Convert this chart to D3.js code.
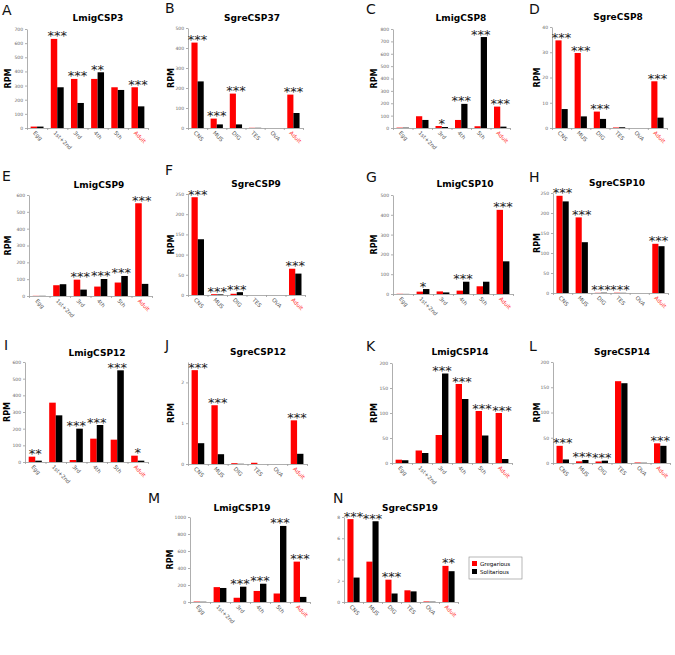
<!DOCTYPE html>
<html><head><meta charset="utf-8">
<script src="https://cdn.jsdelivr.net/npm/d3@7"></script>
<style>body{margin:0;background:#fff}svg{display:block}</style>
</head><body><svg id="c" width="675" height="655"></svg>
<script>
// ---------------- DATA ----------------
const lmigStages = ["Egg", "1st+2nd", "3rd", "4th", "5th", "Adult"];
const sgreTissues = ["CNS", "MUS", "DIG", "TES", "OVA", "Adult"];
const panelLetters = ["A","B","C","D","E","F","G","H","I","J","K","L","M","N"];
const genes = ["LmigCSP3","SgreCSP37","LmigCSP8","SgreCSP8","LmigCSP9","SgreCSP9","LmigCSP10","SgreCSP10","LmigCSP12","SgreCSP12","LmigCSP14","SgreCSP14","LmigCSP19","SgreCSP19"];
const seriesNames = ["Gregarious", "Solitarious"];
const gregarious = [
  [10, 630, 347, 347, 288, 288],
  [427, 47, 172, 1, 0, 167],
  [3, 95, 16, 65, 14, 173],
  [34.7, 29.7, 6.5, 0.2, 0, 18.5],
  [1, 64, 97, 56, 80, 551],
  [242, 2, 3, 0, 0, 65],
  [1, 12, 13, 17, 39, 425],
  [243, 189, 0.5, 0.7, 0, 123],
  [32, 356, 12, 140, 134, 38],
  [2.30, 1.44, 0.02, 0.03, 0, 1.07],
  [6.6, 25, 56, 158, 104, 100],
  [34, 3.3, 3, 162, 1, 39],
  [5, 175, 50, 130, 100, 475],
  [7.8, 3.8, 2.1, 1.1, 0.05, 3.4]
];
const solitarious = [
  [10, 288, 177, 394, 269, 153],
  [233, 18, 18, 1, 0, 75],
  [3, 65, 8, 195, 735, 11],
  [7.5, 4.6, 3.6, 0.3, 0, 4.1],
  [1, 70, 38, 101, 119, 72],
  [138, 1.5, 7, 0, 0, 53],
  [0.5, 25, 8, 62, 62, 165],
  [229, 127, 0.8, 0.4, 0, 117],
  [8, 280, 200, 222, 550, 8],
  [0.51, 0.24, 0.005, 0, 0, 0.25],
  [5.5, 20, 179, 128, 55, 8],
  [7, 6, 4.6, 158, 0.5, 34],
  [3, 165, 180, 215, 895, 60],
  [2.3, 7.6, 0.8, 1.0, 0.03, 2.9]
];
const significance = [
  ["", "***", "***", "**", "", "***"],
  ["***", "***", "***", "", "", "***"],
  ["", "", "*", "***", "***", "***"],
  ["***", "***", "***", "", "", "***"],
  ["", "", "***", "***", "***", "***"],
  ["***", "***", "***", "", "", "***"],
  ["", "*", "", "***", "", "***"],
  ["***", "***", "***", "***", "", "***"],
  ["**", "", "***", "***", "***", "*"],
  ["***", "***", "", "", "", "***"],
  ["", "", "***", "***", "***", "***"],
  ["***", "***", "***", "", "", "***"],
  ["", "", "***", "***", "***", "***"],
  ["***", "***", "***", "", "", "**"]
];
const yMax  = [700, 500, 800, 40, 600, 250, 500, 250, 600, 2.5, 200, 200, 1000, 8];
const yStep = [100, 100, 100, 10, 100, 50, 100, 50, 100, 1, 50, 50, 200, 2];

// ---------------- LAYOUT ----------------
const layout = [
  {x0:27, x1:148, yT:29, yB:128, lx:2,   ly:15,  tx:98,  ty:21,  rx:8},
  {x0:188,x1:303, yT:28, yB:128, lx:165, ly:13,  tx:252, ty:21,  rx:171},
  {x0:393,x1:510, yT:29, yB:128, lx:366, ly:14,  tx:461, ty:21,  rx:374},
  {x0:552,x1:667, yT:27, yB:128, lx:529, ly:14,  tx:618, ty:20,  rx:537},
  {x0:29, x1:152, yT:195,yB:296, lx:2,   ly:181, tx:99,  ty:188, rx:8},
  {x0:188,x1:305, yT:194,yB:295, lx:165, ly:175, tx:256, ty:187, rx:171},
  {x0:393,x1:513, yT:195,yB:294, lx:366, ly:182, tx:465, ty:187, rx:374},
  {x0:553,x1:668, yT:193,yB:293, lx:529, ly:182, tx:617, ty:186, rx:537},
  {x0:25, x1:148, yT:362,yB:462, lx:4,   ly:350, tx:97,  ty:356, rx:7},
  {x0:188,x1:307, yT:362,yB:464, lx:165, ly:350, tx:258, ty:355, rx:171},
  {x0:392,x1:512, yT:363,yB:463, lx:366, ly:351, tx:460, ty:355, rx:374},
  {x0:553,x1:670, yT:362,yB:463, lx:529, ly:351, tx:622, ty:355, rx:537},
  {x0:190,x1:310, yT:517,yB:602, lx:148, ly:503, tx:242, ty:511, rx:170},
  {x0:344,x1:458, yT:517,yB:602, lx:333, ly:503, tx:410, ty:511, rx:null}
];
const colors = ["#ff0000", "#000000"];

const svg = d3.select("#c");
const FONT = "DejaVu Sans, Verdana, sans-serif";

genes.forEach((gene, i) => {
  const L = layout[i];
  const cats = gene.startsWith("Lmig") ? lmigStages : sgreTissues;
  const g = svg.append("g");

  const x = d3.scaleBand().domain(cats).range([L.x0, L.x1]).paddingInner(0.36).paddingOuter(0.18);
  const xs = d3.scaleBand().domain(seriesNames).range([0, x.bandwidth()]);
  const y = d3.scaleLinear().domain([0, yMax[i]]).range([L.yB, L.yT]);
  const ticks = d3.range(0, yMax[i] + 1e-9, yStep[i]);

  // y axis
  const ya = g.append("g").attr("transform", `translate(${L.x0},0)`)
    .call(d3.axisLeft(y).tickValues(ticks).tickSize(2).tickSizeOuter(0).tickPadding(2).tickFormat(d3.format("~g")));
  ya.select(".domain").attr("stroke", "#9a9a9a").attr("stroke-width", 0.8);
  ya.selectAll(".tick line").attr("stroke", "#9a9a9a").attr("stroke-width", 0.8);
  ya.selectAll("text").attr("font-size", "4.5px").attr("fill", "#666").attr("font-family", FONT);

  // x axis (boundaries)
  const xb = d3.scaleLinear().domain([0, cats.length]).range([L.x0, L.x1]);
  const xa = g.append("g").attr("transform", `translate(0,${L.yB})`)
    .call(d3.axisBottom(xb).tickValues(d3.range(cats.length + 1)).tickSize(2).tickSizeOuter(0).tickFormat(""));
  xa.select(".domain").attr("stroke", "#9a9a9a").attr("stroke-width", 0.8);
  xa.selectAll(".tick line").attr("stroke", "#9a9a9a").attr("stroke-width", 0.8);

  // bars
  const rows = cats.map((c, k) => ({c, vals: [gregarious[i][k], solitarious[i][k]], sig: significance[i][k]}));
  const grp = g.selectAll(".grp").data(rows).join("g").attr("transform", d => `translate(${x(d.c)},0)`);
  grp.selectAll("rect").data(d => d.vals.map((v, s) => ({v, s})))
    .join("rect")
    .attr("x", d => xs(seriesNames[d.s]))
    .attr("width", xs.bandwidth())
    .attr("y", d => y(d.v))
    .attr("height", d => L.yB - y(d.v))
    .attr("fill", d => colors[d.s]);

  // significance stars
  g.selectAll(".sig").data(rows.filter(d => d.sig)).join("text")
    .attr("x", d => x(d.c) + x.bandwidth() / 2)
    .attr("y", d => y(Math.max(...d.vals)) + 1.5)
    .attr("text-anchor", "middle")
    .attr("font-size", "13px").attr("font-family", FONT).attr("fill", "#222")
    .text(d => d.sig);

  // category labels
  g.selectAll(".cl").data(cats).join("text")
    .attr("transform", d => `translate(${x(d) + x.bandwidth() / 2 - 3},${L.yB + 4}) rotate(45)`)
    .attr("dy", "0.35em")
    .attr("font-size", "5.5px").attr("font-family", FONT)
    .attr("fill", d => d === "Adult" ? "#ff2020" : "#555")
    .text(d => d);

  // title
  g.append("text").attr("x", L.tx).attr("y", L.ty).attr("text-anchor", "middle")
    .attr("font-size", "9px").attr("font-weight", "bold").attr("font-family", FONT).text(gene);
  // panel letter
  g.append("text").attr("x", L.lx).attr("y", L.ly)
    .attr("font-size", "14px").attr("font-family", FONT).attr("fill", "#111").text(panelLetters[i]);
  // RPM label
  if (L.rx !== null) {
    g.append("text").attr("transform", `translate(${L.rx},${(L.yT + L.yB) / 2}) rotate(-90)`)
      .attr("text-anchor", "middle").attr("dy", "0.35em")
      .attr("font-size", "8px").attr("font-weight", "bold").attr("font-family", FONT).text("RPM");
  }
});

// legend
const lg = svg.append("g").attr("transform", "translate(469,557)");
lg.append("rect").attr("width", 53).attr("height", 22).attr("fill", "#fff").attr("stroke", "#888").attr("stroke-width", 0.6);
seriesNames.forEach((n, k) => {
  lg.append("rect").attr("x", 3).attr("y", 4 + k * 8).attr("width", 5).attr("height", 5).attr("fill", colors[k]);
  lg.append("text").attr("x", 11).attr("y", 8.5 + k * 8).attr("font-size", "5.5px").attr("font-family", FONT).text(n);
});
</script></body></html>
